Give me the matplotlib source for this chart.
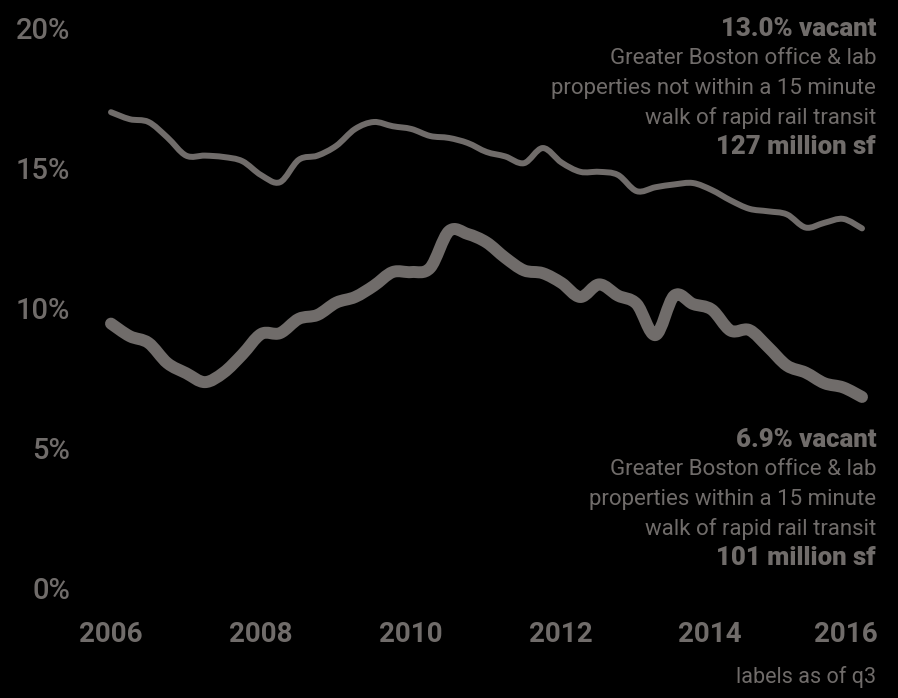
import matplotlib

matplotlib.use("Agg")
import matplotlib.pyplot as plt
import numpy as np
from matplotlib.patches import PathPatch
from matplotlib.path import Path

# quarterly vacancy rates (%), 2006 to 2016
quarters = np.arange(2006, 2016.01, 0.25)
not_near_transit = [
    17.1, 16.85, 16.75, 16.2, 15.55, 15.55, 15.5, 15.35, 14.85, 14.6,
    15.4, 15.55, 15.9, 16.5, 16.75, 16.6, 16.5, 16.25, 16.18, 16.0,
    15.68, 15.52, 15.28, 15.82, 15.3, 14.97, 14.97, 14.86, 14.28, 14.42,
    14.52, 14.57, 14.32, 13.95, 13.65, 13.56, 13.45, 12.98, 13.15, 13.29,
    12.95,
]
near_transit = [
    9.55, 9.1, 8.86, 8.14, 7.78, 7.46, 7.8, 8.45, 9.18, 9.21,
    9.72, 9.86, 10.3, 10.5, 10.9, 11.39, 11.39, 11.54, 12.85, 12.75,
    12.45, 11.9, 11.45, 11.35, 11.0, 10.5, 10.95, 10.55, 10.25, 9.14,
    10.55, 10.25, 10.05, 9.3, 9.32, 8.71, 8.05, 7.8, 7.42, 7.27,
    6.93,
]
year_ticks = [2006, 2008, 2010, 2012, 2014, 2016]
pct_ticks = [0, 5, 10, 15, 20]

GRAY = "#706c6a"
W, H = 898, 698
FONT = "Roboto"


def smooth_path(x, y, tension=1 / 6):
    """Catmull-Rom style cubic bezier path through the data points."""
    pts = np.column_stack([x, y])
    verts = [pts[0]]
    codes = [Path.MOVETO]
    n = len(pts)
    for i in range(n - 1):
        p0 = pts[max(i - 1, 0)]
        p1, p2 = pts[i], pts[i + 1]
        p3 = pts[min(i + 2, n - 1)]
        verts += [p1 + (p2 - p0) * tension, p2 - (p3 - p1) * tension, p2]
        codes += [Path.CURVE4] * 3
    return Path(verts, codes)


fig = plt.figure(figsize=(W / 100, H / 100), dpi=100, facecolor="black")
ax = fig.add_axes([111 / W, (H - 591) / H, (862 - 111) / W, 560 / H])
ax.set_facecolor("black")
for series, lw in [(not_near_transit, 4.3), (near_transit, 8.6)]:
    ax.add_patch(PathPatch(smooth_path(quarters, series), fill=False, edgecolor=GRAY,
                           lw=lw, capstyle="round", joinstyle="round", clip_on=False))
ax.set_xlim(2006, 2016)
ax.set_ylim(0, 20)
ax.axis("off")


def px_text(x, y, s, **kw):
    fig.text(x / W, 1 - y / H, s, color=GRAY, family=FONT, va="center", **kw)


for v in pct_ticks:
    y = 591 - v * 28
    px_text(70, y, f"{v}%", ha="right", fontsize=21, weight="medium")

for yr in year_ticks:
    x = 111 + (yr - 2006) * 74.9
    px_text(x if yr < 2016 else 878, 634, str(yr), ha="center" if yr < 2016 else "right",
            fontsize=20, weight="bold")

upper_lines = [("13.0% vacant", True), ("Greater Boston office & lab", False),
               ("properties not within a 15 minute", False),
               ("walk of rapid rail transit", False), ("127 million sf", True)]
lower_lines = [("6.9% vacant", True), ("Greater Boston office & lab", False),
               ("properties within a 15 minute", False),
               ("walk of rapid rail transit", False), ("101 million sf", True)]

for lines, y0 in [(upper_lines, 29), (lower_lines, 440)]:
    for i, (s, bold) in enumerate(lines):
        px_text(876, y0 + i * 29.6, s, ha="right",
                fontsize=18.5 if bold else 16, weight="black" if bold else "normal")

px_text(876, 677, "labels as of q3", ha="right", fontsize=15.5, weight="normal")

fig.savefig("out.png", dpi=100, facecolor="black")
